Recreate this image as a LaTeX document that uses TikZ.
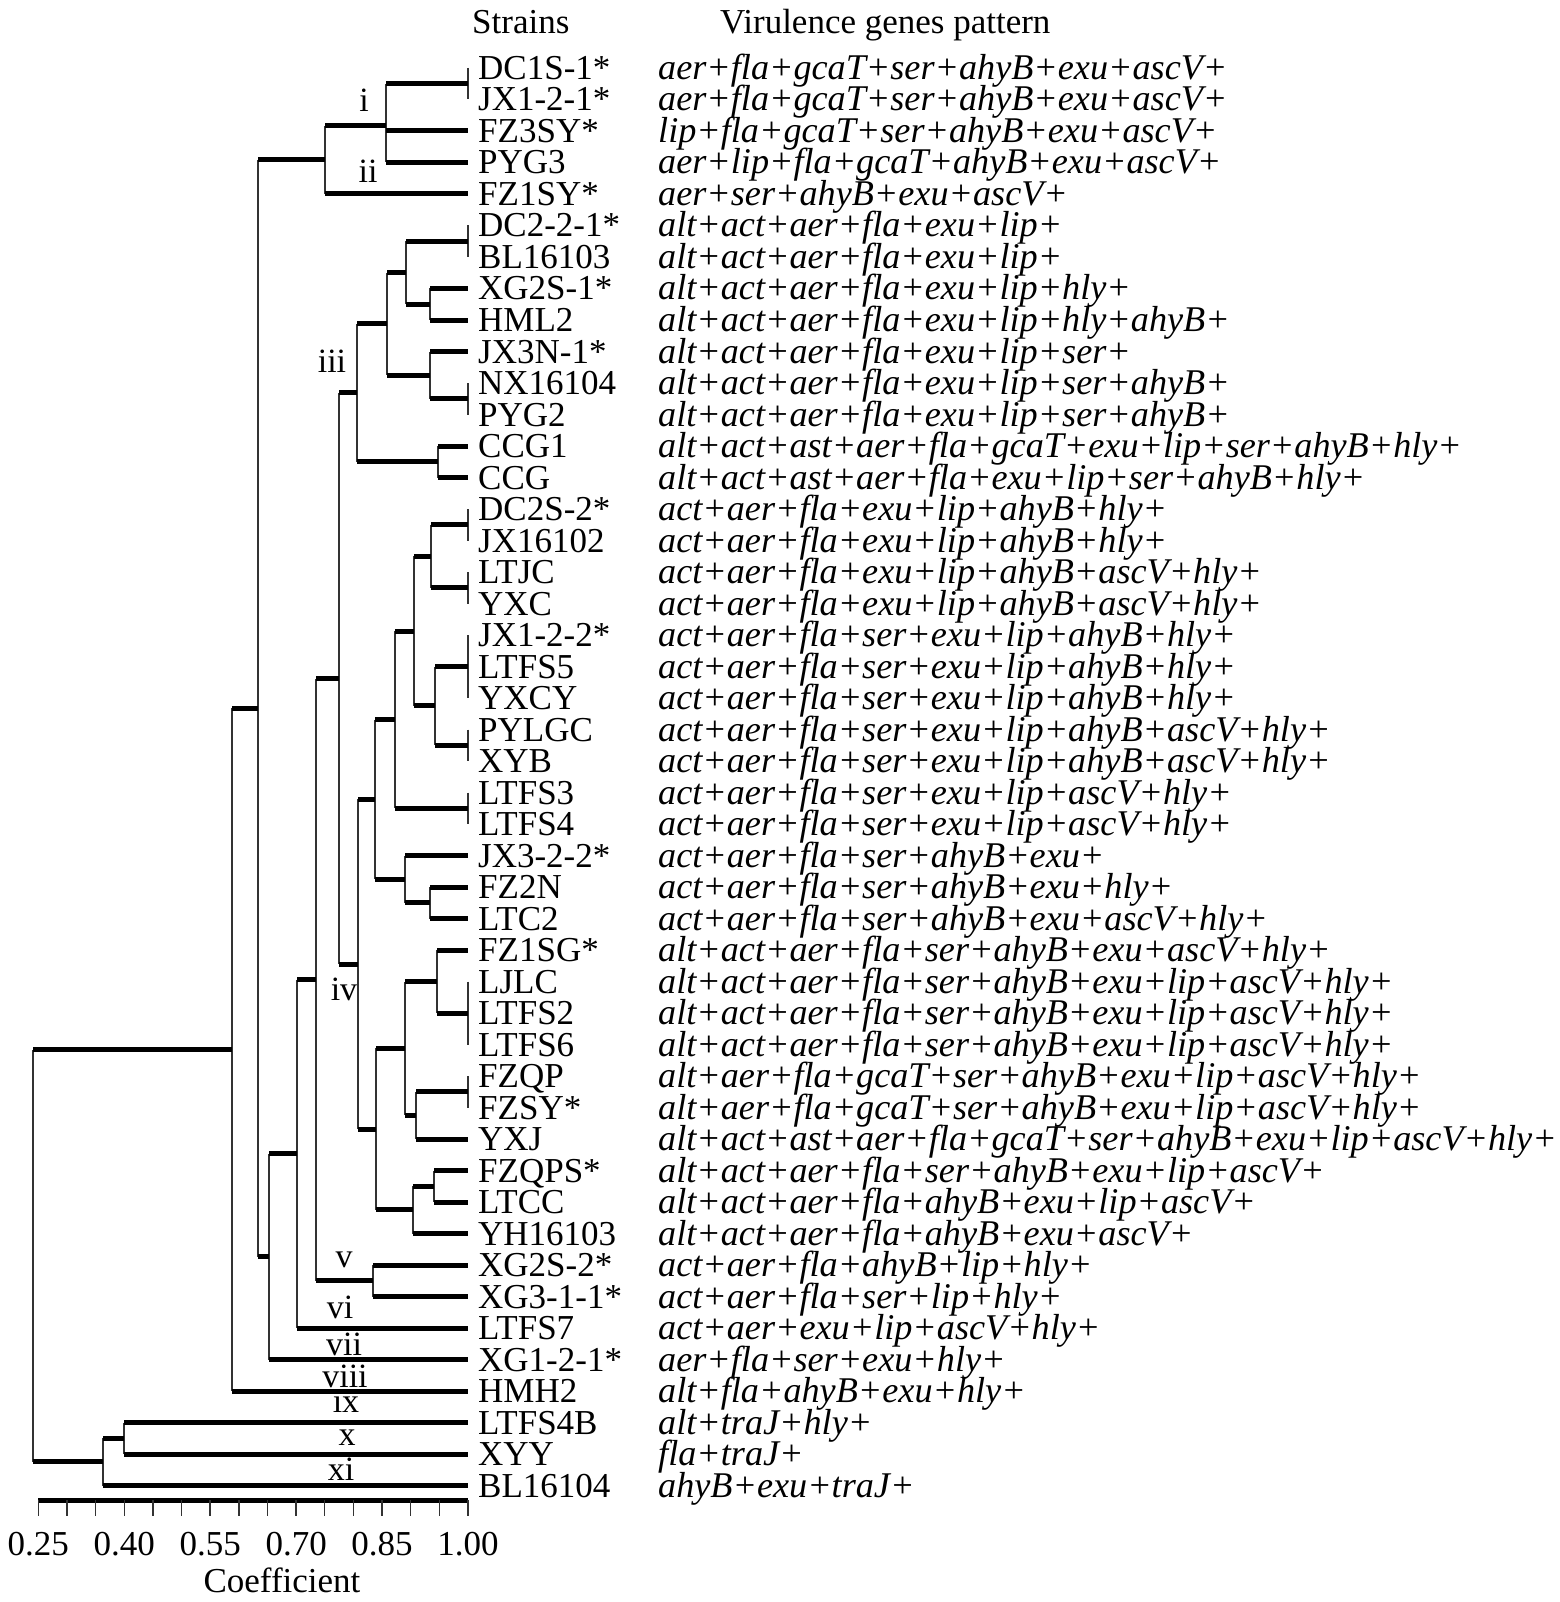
\documentclass[tikz,border=0pt]{standalone}
\usepackage{fontspec}
\setmainfont{Liberation Serif}
\begin{document}
\begin{tikzpicture}[x=1pt,y=-1pt,
  hl/.style={line width=5pt},
  vl/.style={line width=1.4pt, black!80},
  axisline/.style={line width=5pt},
  ticklbl/.style={inner sep=0pt, anchor=base, font=\fontsize{35}{35}\selectfont},
  lab/.style={inner sep=0pt, anchor=base, font=\fontsize{34}{34}\selectfont, text height=16pt, text depth=0pt},
  strain/.style={inner sep=0pt, anchor=base west, font=\fontsize{35}{35}\selectfont, text height=23pt, text depth=6pt},
  pat/.style={inner sep=0pt, anchor=base west, font=\fontsize{36.2}{36.2}\selectfont\itshape, text height=23pt, text depth=6pt},
  head/.style={inner sep=0pt, anchor=base west, font=\fontsize{35}{35}\selectfont}]
\useasboundingbox (0,0) rectangle (1559,1602);
\fill[white] (0,0) rectangle (1559,1602);

% headers
\node[head] (hs) at (472,34) {Strains};
\node[head] (hv) at (720,34) {Virulence genes pattern};

% leaves and texts
\foreach \i/\s/\p in {
1/DC1S-1*/aer+fla+gcaT+ser+ahyB+exu+ascV+,
2/JX1-2-1*/aer+fla+gcaT+ser+ahyB+exu+ascV+,
3/FZ3SY*/lip+fla+gcaT+ser+ahyB+exu+ascV+,
4/PYG3/aer+lip+fla+gcaT+ahyB+exu+ascV+,
5/FZ1SY*/aer+ser+ahyB+exu+ascV+,
6/DC2-2-1*/alt+act+aer+fla+exu+lip+,
7/BL16103/alt+act+aer+fla+exu+lip+,
8/XG2S-1*/alt+act+aer+fla+exu+lip+hly+,
9/HML2/alt+act+aer+fla+exu+lip+hly+ahyB+,
10/JX3N-1*/alt+act+aer+fla+exu+lip+ser+,
11/NX16104/alt+act+aer+fla+exu+lip+ser+ahyB+,
12/PYG2/alt+act+aer+fla+exu+lip+ser+ahyB+,
13/CCG1/alt+act+ast+aer+fla+gcaT+exu+lip+ser+ahyB+hly+,
14/CCG/alt+act+ast+aer+fla+exu+lip+ser+ahyB+hly+,
15/DC2S-2*/act+aer+fla+exu+lip+ahyB+hly+,
16/JX16102/act+aer+fla+exu+lip+ahyB+hly+,
17/LTJC/act+aer+fla+exu+lip+ahyB+ascV+hly+,
18/YXC/act+aer+fla+exu+lip+ahyB+ascV+hly+,
19/JX1-2-2*/act+aer+fla+ser+exu+lip+ahyB+hly+,
20/LTFS5/act+aer+fla+ser+exu+lip+ahyB+hly+,
21/YXCY/act+aer+fla+ser+exu+lip+ahyB+hly+,
22/PYLGC/act+aer+fla+ser+exu+lip+ahyB+ascV+hly+,
23/XYB/act+aer+fla+ser+exu+lip+ahyB+ascV+hly+,
24/LTFS3/act+aer+fla+ser+exu+lip+ascV+hly+,
25/LTFS4/act+aer+fla+ser+exu+lip+ascV+hly+,
26/JX3-2-2*/act+aer+fla+ser+ahyB+exu+,
27/FZ2N/act+aer+fla+ser+ahyB+exu+hly+,
28/LTC2/act+aer+fla+ser+ahyB+exu+ascV+hly+,
29/FZ1SG*/alt+act+aer+fla+ser+ahyB+exu+ascV+hly+,
30/LJLC/alt+act+aer+fla+ser+ahyB+exu+lip+ascV+hly+,
31/LTFS2/alt+act+aer+fla+ser+ahyB+exu+lip+ascV+hly+,
32/LTFS6/alt+act+aer+fla+ser+ahyB+exu+lip+ascV+hly+,
33/FZQP/alt+aer+fla+gcaT+ser+ahyB+exu+lip+ascV+hly+,
34/FZSY*/alt+aer+fla+gcaT+ser+ahyB+exu+lip+ascV+hly+,
35/YXJ/alt+act+ast+aer+fla+gcaT+ser+ahyB+exu+lip+ascV+hly+,
36/FZQPS*/alt+act+aer+fla+ser+ahyB+exu+lip+ascV+,
37/LTCC/alt+act+aer+fla+ahyB+exu+lip+ascV+,
38/YH16103/alt+act+aer+fla+ahyB+exu+ascV+,
39/XG2S-2*/act+aer+fla+ahyB+lip+hly+,
40/XG3-1-1*/act+aer+fla+ser+lip+hly+,
41/LTFS7/act+aer+exu+lip+ascV+hly+,
42/XG1-2-1*/aer+fla+ser+exu+hly+,
43/HMH2/alt+fla+ahyB+exu+hly+,
44/LTFS4B/alt+traJ+hly+,
45/XYY/fla+traJ+,
46/BL16104/ahyB+exu+traJ+}{
  \pgfmathsetmacro\yy{68+31.5*(\i-1)}
  \pgfmathsetmacro\yb{\yy+11.5}
  \coordinate (L\i) at (468,\yy);
  \node[strain] (s\i) at (478,\yb) {\s};
  \node[pat] (p\i) at (658,\yb) {\p};
}

% tips of leaf lines (single leaves or groups of identical patterns)
\coordinate (g1) at (468,83.75);
\coordinate (g3) at (L3); \coordinate (g4) at (L4); \coordinate (g5) at (L5);
\coordinate (g6) at (468,241.25);
\coordinate (g8) at (L8); \coordinate (g9) at (L9); \coordinate (g10) at (L10);
\coordinate (g11) at (468,398.75);
\coordinate (g13) at (L13); \coordinate (g14) at (L14);
\coordinate (g15) at (468,524.75);
\coordinate (g17) at (468,587.75);
\coordinate (g19) at (468,666.5);
\coordinate (g22) at (468,745.25);
\coordinate (g24) at (468,808.25);
\coordinate (g26) at (L26); \coordinate (g27) at (L27); \coordinate (g28) at (L28);
\coordinate (g29) at (L29);
\coordinate (g30) at (468,1013);
\coordinate (g33) at (468,1091.75);
\coordinate (g35) at (L35); \coordinate (g36) at (L36); \coordinate (g37) at (L37);
\coordinate (g38) at (L38); \coordinate (g39) at (L39); \coordinate (g40) at (L40);
\coordinate (g41) at (L41); \coordinate (g42) at (L42); \coordinate (g43) at (L43);
\coordinate (g44) at (L44); \coordinate (g45) at (L45); \coordinate (g46) at (L46);

% bars of identical groups
\draw[vl] (L1) -- (L2);
\draw[vl] (L6) -- (L7);
\draw[vl] (L11) -- (L12);
\draw[vl] (L15) -- (L16);
\draw[vl] (L17) -- (L18);
\draw[vl] (L19) -- (L21);
\draw[vl] (L22) -- (L23);
\draw[vl] (L24) -- (L25);
\draw[vl] (L30) -- (L32);
\draw[vl] (L33) -- (L34);

% internal nodes (x = merge level, y = mean of children)
\coordinate (nA) at (386,125.75);
\coordinate (nB) at (325,159.9);
\coordinate (nC1) at (430,304.25);
\coordinate (nC2) at (406,272.75);
\coordinate (nC3) at (430,375.1);
\coordinate (nC4) at (387,323.9);
\coordinate (nC5) at (438,461.75);
\coordinate (nC6) at (357,392.8);
\coordinate (nD1) at (431,556.25);
\coordinate (nD2) at (435,705.9);
\coordinate (nD3) at (414,631.1);
\coordinate (nD4) at (395,719.7);
\coordinate (nD5) at (430,902.75);
\coordinate (nD6) at (405,879.1);
\coordinate (nD7) at (375,799.4);
\coordinate (nE1) at (437,981.5);
\coordinate (nE2) at (416,1115.4);
\coordinate (nE3) at (405,1048.4);
\coordinate (nE4) at (434,1186.25);
\coordinate (nE5) at (413,1209.9);
\coordinate (nE6) at (376,1129.2);
\coordinate (nE7) at (358,964.3);
\coordinate (nF) at (339,678.5);
\coordinate (nV) at (373,1280.75);
\coordinate (nG) at (316,979.6);
\coordinate (nH) at (297,1153.8);
\coordinate (nI) at (269,1256.7);
\coordinate (nJ) at (258,708.3);
\coordinate (nK) at (232,1049.6);
\coordinate (nL1) at (124,1438.25);
\coordinate (nL2) at (103,1461.9);
\coordinate (root) at (33,1255.75);

% vertical joins
\foreach \n/\a/\b in {nA/g1/g4, nB/nA/g5, nC1/g8/g9, nC2/g6/nC1, nC3/g10/g11,
  nC4/nC2/nC3, nC5/g13/g14, nC6/nC4/nC5, nD1/g15/g17, nD2/g19/g22, nD3/nD1/nD2,
  nD4/nD3/g24, nD5/g27/g28, nD6/g26/nD5, nD7/nD4/nD6, nE1/g29/g30, nE2/g33/g35,
  nE3/nE1/nE2, nE4/g36/g37, nE5/nE4/g38, nE6/nE3/nE5, nE7/nD7/nE6, nF/nC6/nE7,
  nV/g39/g40, nG/nF/nV, nH/nG/g41, nI/nH/g42, nJ/nB/nI, nK/nJ/g43,
  nL1/g44/g45, nL2/nL1/g46, root/nK/nL2}{
  \draw[vl] (\n |- \a) -- (\n |- \b);
}
% horizontal branches
\foreach \n/\c in {nA/g1, nA/g3, nA/g4, nB/nA, nB/g5, nC1/g8, nC1/g9, nC2/g6, nC2/nC1,
  nC3/g10, nC3/g11, nC4/nC2, nC4/nC3, nC5/g13, nC5/g14, nC6/nC4, nC6/nC5,
  nD1/g15, nD1/g17, nD2/g19, nD2/g22, nD3/nD1, nD3/nD2, nD4/nD3, nD4/g24,
  nD5/g27, nD5/g28, nD6/g26, nD6/nD5, nD7/nD4, nD7/nD6,
  nE1/g29, nE1/g30, nE2/g33, nE2/g35, nE3/nE1, nE3/nE2, nE4/g36, nE4/g37,
  nE5/nE4, nE5/g38, nE6/nE3, nE6/nE5, nE7/nD7, nE7/nE6, nF/nC6, nF/nE7,
  nV/g39, nV/g40, nG/nF, nG/nV, nH/nG, nH/g41, nI/nH, nI/g42, nJ/nB, nJ/nI,
  nK/nJ, nK/g43, nL1/g44, nL1/g45, nL2/nL1, nL2/g46, root/nK, root/nL2}{
  \draw[hl] (\n |- \c) -- (\c);
}

% cluster labels
\node[lab] (ri) at (364,112) {i};
\node[lab] (rii) at (368,183) {ii};
\node[lab] (riii) at (332,372) {iii};
\node[lab] (riv) at (344,1000) {iv};
\node[lab] (rv) at (344,1267) {v};
\node[lab] (rvi) at (340,1318) {vi};
\node[lab] (rvii) at (344,1355) {vii};
\node[lab] (rviii) at (345,1387) {viii};
\node[lab] (rix) at (346,1412) {ix};
\node[lab] (rx) at (347,1445) {x};
\node[lab] (rxi) at (341,1480) {xi};

% axis
\coordinate (a0) at (38.3,1500);
\coordinate (a15) at (468,1500);
\draw[axisline] (a0) -- (a15);
\foreach \k in {0,...,15}{
  \pgfmathsetmacro\tx{38.3+28.647*\k}
  \coordinate (t\k) at (\tx,1500);
  \draw[vl] (t\k) -- ++(0,16);
}
\foreach \k/\v in {0/0.25,3/0.40,6/0.55,9/0.70,12/0.85,15/1.00}{
  \node[ticklbl] (tl\k) at ([yshift=-55pt]t\k) {\v};
}
\node[ticklbl] (coef) at (282,1592) {Coefficient};
\end{tikzpicture}
\end{document}
